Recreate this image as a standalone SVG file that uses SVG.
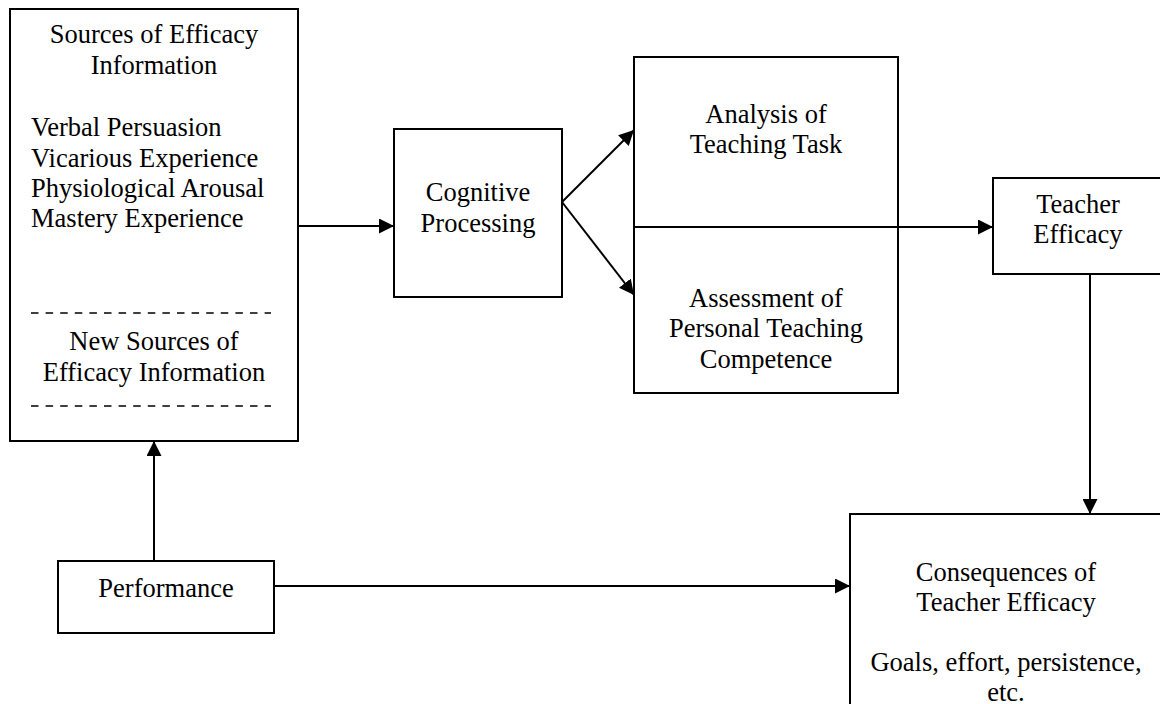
<svg xmlns="http://www.w3.org/2000/svg" width="1160" height="704" viewBox="0 0 1160 704">
<style>
.box{fill:#fff;stroke:#000;stroke-width:2}
.t{font-family:"Liberation Serif","Times New Roman",serif;font-size:26.5px;fill:#000}
.c{text-anchor:middle}
.edge{stroke:#000;stroke-width:2;fill:none}
.dash{stroke:#000;stroke-width:1.6;stroke-dasharray:7.5 7.1}
</style>
<defs>
<marker id="arr" markerUnits="userSpaceOnUse" markerWidth="16" markerHeight="15" refX="15" refY="7.5" orient="auto">
<path d="M0,0 L15,7.5 L0,15 z" fill="#000"/>
</marker>
</defs>
<rect width="1160" height="704" fill="#fff"/>
<g id="sources">
<rect class="box" x="10" y="9" width="288" height="432"/>
<text class="t c" x="154" y="43">Sources of Efficacy</text>
<text class="t c" x="154" y="74">Information</text>
<text class="t" x="31" y="136">Verbal Persuasion</text>
<text class="t" x="31" y="167">Vicarious Experience</text>
<text class="t" x="31" y="197">Physiological Arousal</text>
<text class="t" x="31" y="227">Mastery Experience</text>
<line class="dash" x1="31" y1="313" x2="271" y2="313"/>
<text class="t c" x="154" y="350">New Sources of</text>
<text class="t c" x="154" y="381">Efficacy Information</text>
<line class="dash" x1="31" y1="406" x2="271" y2="406"/>
</g>
<g id="cognitive">
<rect class="box" x="394" y="129" width="168" height="168"/>
<text class="t c" x="478" y="201">Cognitive</text>
<text class="t c" x="478" y="232">Processing</text>
</g>
<g id="analysis">
<rect class="box" x="634" y="57" width="264" height="170"/>
<text class="t c" x="766" y="123">Analysis of</text>
<text class="t c" x="766" y="153">Teaching Task</text>
</g>
<g id="assessment">
<rect class="box" x="634" y="227" width="264" height="166"/>
<text class="t c" x="766" y="307">Assessment of</text>
<text class="t c" x="766" y="337">Personal Teaching</text>
<text class="t c" x="766" y="368">Competence</text>
</g>
<g id="teacher">
<rect class="box" x="993" y="178" width="170" height="96"/>
<text class="t c" x="1078" y="213">Teacher</text>
<text class="t c" x="1078" y="243">Efficacy</text>
</g>
<g id="performance">
<rect class="box" x="58" y="561" width="216" height="72"/>
<text class="t c" x="166" y="597">Performance</text>
</g>
<g id="consequences">
<rect class="box" x="850" y="514" width="313" height="240"/>
<text class="t c" x="1006" y="581">Consequences of</text>
<text class="t c" x="1006" y="611">Teacher Efficacy</text>
<text class="t c" x="1006" y="671">Goals, effort, persistence,</text>
<text class="t c" x="1006" y="701">etc.</text>
</g>
<g id="connectors">
<line class="edge" x1="298" y1="226" x2="394" y2="226" marker-end="url(#arr)"/>
<line class="edge" x1="562" y1="202" x2="634" y2="130" marker-end="url(#arr)"/>
<line class="edge" x1="562" y1="202" x2="634" y2="295" marker-end="url(#arr)"/>
<line class="edge" x1="634" y1="227" x2="993" y2="227" marker-end="url(#arr)"/>
<line class="edge" x1="1090" y1="274" x2="1090" y2="514" marker-end="url(#arr)"/>
<line class="edge" x1="274" y1="586" x2="850" y2="586" marker-end="url(#arr)"/>
<line class="edge" x1="154" y1="561" x2="154" y2="441" marker-end="url(#arr)"/>
</g>
</svg>
